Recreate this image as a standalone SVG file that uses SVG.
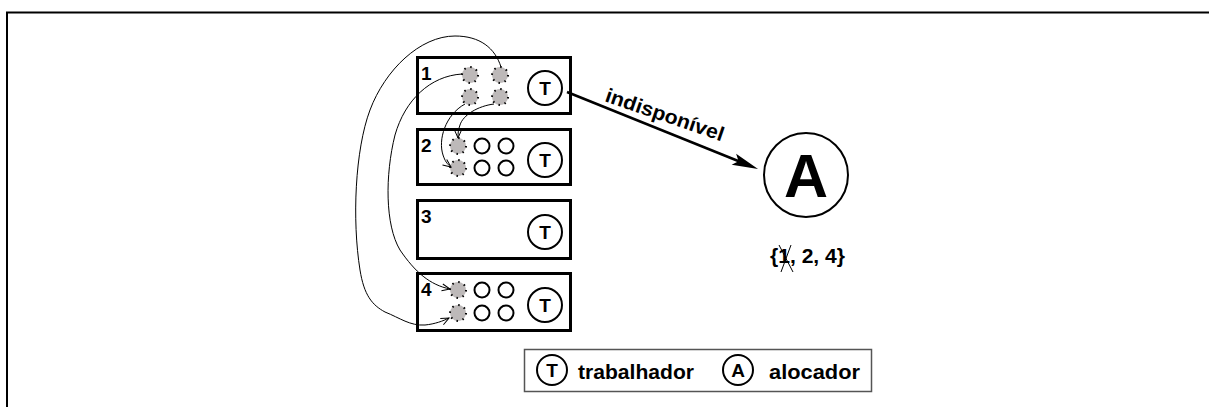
<svg xmlns="http://www.w3.org/2000/svg" width="1209" height="407" viewBox="0 0 1209 407">
<style>
.box{fill:#fff;stroke:#000;stroke-width:3}
.tc{fill:#fff;stroke:#000;stroke-width:2}
.gd{fill:#bdb9b9;stroke:#000;stroke-width:2;stroke-dasharray:1.5 4.78}
.oc{fill:#fff;stroke:#000;stroke-width:2}
.t{font-family:"Liberation Sans",Arial,sans-serif;font-weight:bold;fill:#000}
.mid{text-anchor:middle}
.cv{fill:none;stroke:#000;stroke-width:1;marker-end:url(#sm)}
</style>
<defs>
<marker id="sm" markerUnits="userSpaceOnUse" markerWidth="12" markerHeight="10" refX="8" refY="3.5" orient="auto" overflow="visible">
<path d="M0,0 L8,3.5 L0,7" fill="none" stroke="#000" stroke-width="1"/>
</marker>
<marker id="big" markerUnits="userSpaceOnUse" markerWidth="30" markerHeight="14" refX="18" refY="6" orient="auto" overflow="visible">
<path d="M0,0 L26,6 L0,12 L5,6 Z" fill="#000"/>
</marker>
</defs>
<rect width="1209" height="407" fill="#fff"/>
<path d="M7,407 V12.5 H1209" fill="none" stroke="#000" stroke-width="2"/>

<g id="node1">
<rect class="box" x="417.5" y="57.5" width="153" height="56"/>
<text class="t" x="421" y="80" font-size="19">1</text>
<circle class="gd" cx="470" cy="75" r="8"/>
<circle class="gd" cx="500" cy="75" r="8"/>
<circle class="gd" cx="470" cy="97" r="8"/>
<circle class="gd" cx="500" cy="97" r="8"/>
<circle class="tc" cx="545" cy="88" r="17"/>
<text class="t mid" x="545" y="95" font-size="19">T</text>
</g>

<g id="node2">
<rect class="box" x="417.5" y="129.5" width="153" height="55"/>
<text class="t" x="421" y="152" font-size="19">2</text>
<circle class="gd" cx="458" cy="146" r="8"/>
<circle class="gd" cx="458" cy="168" r="8"/>
<circle class="oc" cx="482" cy="146" r="7.5"/>
<circle class="oc" cx="506" cy="146" r="7.5"/>
<circle class="oc" cx="482" cy="168" r="7.5"/>
<circle class="oc" cx="506" cy="168" r="7.5"/>
<circle class="tc" cx="545" cy="160" r="17"/>
<text class="t mid" x="545" y="167" font-size="19">T</text>
</g>

<g id="node3">
<rect class="box" x="417.5" y="200.5" width="153" height="58"/>
<text class="t" x="421" y="223" font-size="19">3</text>
<circle class="tc" cx="545" cy="232" r="17"/>
<text class="t mid" x="545" y="239" font-size="19">T</text>
</g>

<g id="node4">
<rect class="box" x="417.5" y="273.5" width="153" height="57"/>
<text class="t" x="421" y="296" font-size="19">4</text>
<circle class="gd" cx="458" cy="290" r="8"/>
<circle class="gd" cx="458" cy="313" r="8"/>
<circle class="oc" cx="482" cy="290" r="7.5"/>
<circle class="oc" cx="506" cy="290" r="7.5"/>
<circle class="oc" cx="482" cy="313" r="7.5"/>
<circle class="oc" cx="506" cy="313" r="7.5"/>
<circle class="tc" cx="545" cy="305" r="17"/>
<text class="t mid" x="545" y="312" font-size="19">T</text>
</g>

<g id="alocador">
<circle cx="806" cy="175" r="42" fill="#fff" stroke="#000" stroke-width="2"/>
<text class="t mid" x="806" y="197" font-size="61">A</text>
<text class="t" x="770" y="263" font-size="21" textLength="75" lengthAdjust="spacingAndGlyphs">{1, 2, 4}</text>
<path d="M779,245 L793,272 M791,245 L781,272" stroke="#000" stroke-width="1" fill="none"/>
</g>

<g id="connectors">
<path class="cv" d="M501,67 C495,48 480,36 455,36 C420,36 385,70 370,110 C355,150 352,220 360,270 C364,295 372,305 385,312 C400,318 410,326 425,325 C435,324 443,321 449,318"/>
<path class="cv" d="M462,74 C430,76 405,100 395,135 C385,175 385,225 400,250 C415,272 430,285 450,289"/>
<path class="cv" d="M465,104 C445,115 438,140 443,155 C445,161 447,164 451,167"/>
<path class="cv" d="M494,104 C478,106 463,115 460,125 C458,130 458,134 458,138"/>
<line x1="567" y1="92" x2="750.6" y2="166" stroke="#000" stroke-width="2.5" marker-end="url(#big)"/>
<text class="t" transform="translate(604,101) rotate(19)" font-size="20" textLength="124" lengthAdjust="spacingAndGlyphs">indisponível</text>
</g>

<g id="legend">
<rect x="524.5" y="349.5" width="347" height="42" fill="#fff" stroke="#555" stroke-width="1.5"/>
<circle cx="552" cy="370" r="15" fill="#fff" stroke="#000" stroke-width="2"/>
<text class="t mid" x="552" y="377" font-size="19">T</text>
<text class="t" x="578" y="379" font-size="21" textLength="116" lengthAdjust="spacingAndGlyphs">trabalhador</text>
<circle cx="738" cy="370" r="15" fill="#fff" stroke="#000" stroke-width="2"/>
<text class="t mid" x="738" y="377" font-size="19">A</text>
<text class="t" x="769" y="379" font-size="21" textLength="91" lengthAdjust="spacingAndGlyphs">alocador</text>
</g>
</svg>
